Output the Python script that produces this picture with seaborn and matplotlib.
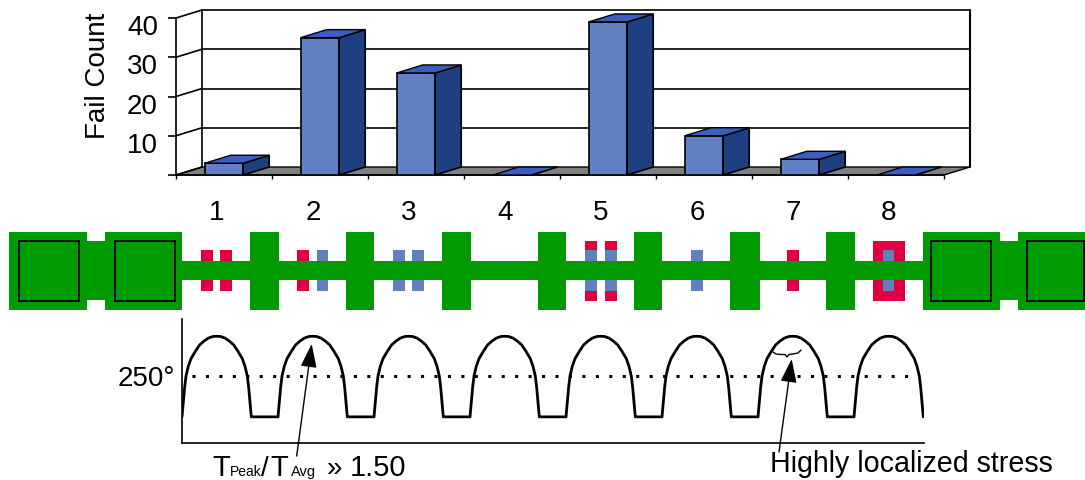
import numpy as np
import pandas as pd
import matplotlib
matplotlib.use('Agg')
import matplotlib.pyplot as plt
import seaborn as sns
from matplotlib.patches import Polygon, Rectangle
from matplotlib.transforms import ScaledTranslation

# --- Data ---
test_sites = ['1', '2', '3', '4', '5', '6', '7', '8']
fail_counts = [3, 35, 26, 0, 39, 10, 4, 0]
count_ticks = [0, 10, 20, 30, 40]
count_labels = ['', '10', '20', '30', '40']

# one arch of the temperature trace
arch_pos = [0.0, 0.014, 0.028, 0.042, 0.066, 0.094, 0.139, 0.184, 0.229, 0.274, 0.319, 0.361,
            0.403, 0.448, 0.493, 0.538, 0.583, 0.628, 0.656, 0.68, 0.694, 0.708, 0.722]
arch_temp = [97, 152, 208, 249, 285, 313, 340, 364, 378, 389, 395, 396,
             395, 389, 378, 364, 340, 313, 285, 249, 208, 152, 97]
ref_temp = 250

# --- Colours ---
GREEN = '#009B00'
RED = '#E00040'
BLUE = '#6080C0'
BAR_SIDE = '#1F3F80'
BAR_TOP = '#3C5FBF'
FLOOR = '#808080'

sns.set_theme(style='white')
plt.rcParams['font.family'] = ['Liberation Sans', 'DejaVu Sans']
plt.rcParams['text.color'] = 'black'

W, H = 1085, 481
fig = plt.figure(figsize=(W / 100, H / 100), dpi=100)

def px_axes(left, top, right, bottom):
    return fig.add_axes([left / W, 1 - bottom / H, (right - left) / W, (bottom - top) / H])

# --- Bar chart (pseudo 3D) ---
ax = px_axes(176, 19, 944, 176)
df = pd.DataFrame({'site': test_sites, 'fails': fail_counts})
sns.barplot(data=df, x='site', y='fails', order=test_sites, color=BLUE, width=0.4,
            saturation=1, edgecolor='black', linewidth=1.2, ax=ax)
ax.set_xlim(-0.5, 7.5)
ax.set_ylim(0, 40)
dx = 26 / 96
dy = 8 / (157 / 40)

ax.add_patch(Polygon([(-0.5, 0), (7.5, 0), (7.5 + dx, dy), (-0.5 + dx, dy)], facecolor=FLOOR,
                     edgecolor='black', lw=1.0, clip_on=False, zorder=0.5))
for v in count_ticks:
    ax.plot([-0.5, -0.5 + dx], [v, v + dy], color='black', lw=1.2, clip_on=False, zorder=0.6)
    if v > 0:
        ax.plot([-0.5 + dx, 7.5 + dx], [v + dy, v + dy], color='black', lw=1.2, clip_on=False, zorder=0.6)
ax.plot([-0.5 + dx] * 2, [dy, 40 + dy], color='black', lw=1.2, clip_on=False, zorder=0.6)
ax.plot([7.5 + dx] * 2, [dy, 40 + dy], color='black', lw=1.5, clip_on=False, zorder=0.6)

for bar in list(ax.patches):
    if not isinstance(bar, Rectangle):
        continue
    x0, w, h = bar.get_x(), bar.get_width(), bar.get_height()
    x1 = x0 + w
    bar.set_zorder(3)
    ax.add_patch(Polygon([(x1, 0), (x1 + dx, dy), (x1 + dx, h + dy), (x1, h)], facecolor=BAR_SIDE,
                         edgecolor='black', lw=1.2, clip_on=False, zorder=3))
    ax.add_patch(Polygon([(x0, h), (x1, h), (x1 + dx, h + dy), (x0 + dx, h + dy)], facecolor=BAR_TOP,
                         edgecolor='black', lw=1.0, clip_on=False, zorder=3))

for s in ['top', 'right']:
    ax.spines[s].set_visible(False)
for s in ['left', 'bottom']:
    ax.spines[s].set_linewidth(1.2)
    ax.spines[s].set_color('black')

ax.set_xticks(np.arange(-0.5, 8), labels=[])
ax.tick_params(axis='x', bottom=True, length=3, width=1.0, color='black')
ax.set_yticks(count_ticks, labels=count_labels, fontsize=20, color='black')
ax.tick_params(axis='y', left=True, length=6, width=1.2, color='black', labelcolor='black', pad=7)
shift = ScaledTranslation(0, -6 / 100, fig.dpi_scale_trans)
for lab in ax.get_yticklabels():
    lab.set_transform(lab.get_transform() + shift)
ax.set_xlabel('')
ax.set_ylabel('')
fig.text(98 / W, 1 - 76 / H, 'Fail Count', rotation=90, fontsize=20, ha='center', va='center')

for i, name in enumerate(test_sites):
    ax.annotate(name, xy=(i, 0), xytext=(-7, -44), xycoords='data', textcoords='offset pixels',
                ha='center', va='baseline', fontsize=20, annotation_clip=False)

# --- Temperature trace ---
ax_w = px_axes(182, 320, 924, 444)
wave_x = np.concatenate([i + np.array(arch_pos) for i in range(len(test_sites))])
wave_y = np.tile(arch_temp, len(test_sites))
sns.lineplot(x=wave_x, y=wave_y, sort=False, estimator=None, color='black', lw=2.0, ax=ax_w)
ax_w.hlines(ref_temp, 0.1, 7.66, color='black', lw=2.2, linestyles=(0, (1, 3.4)))
ax_w.set_xlim(0, 742 / 96)
ax_w.set_ylim(0, 460)
ax_w.set_xticks([])
ax_w.set_yticks([])
ax_w.patch.set_visible(False)
for s in ['top', 'right']:
    ax_w.spines[s].set_visible(False)
for s in ['left', 'bottom']:
    ax_w.spines[s].set_linewidth(1.2)
    ax_w.spines[s].set_color('black')

# --- Strip schematic and annotations, in picture pixels ---
ov = fig.add_axes([0, 0, 1, 1], zorder=5)
ov.set_xlim(0, W)
ov.set_ylim(H, 0)
ov.axis('off')

def box(x0, x1, y0, y1, color, z=1):
    ov.add_patch(Rectangle((x0, y0), x1 - x0, y1 - y0, facecolor=color, edgecolor='none', zorder=z))

# vias sit under the green line
for x0, x1 in [(201.3, 213), (219.7, 231.7), (297, 309)]:
    box(x0, x1, 251.3, 291.7, RED)
for x0, x1 in [(316.7, 328.3), (392.7, 404.7), (412.3, 424), (691.2, 702.7)]:
    box(x0, x1, 251.3, 291.7, BLUE)
for x0, x1 in [(585.2, 597), (605, 616.8)]:
    box(x0, x1, 242, 302, RED)
    box(x0, x1, 251.3, 291.7, BLUE, z=1.1)
box(787, 798.6, 251.3, 291.7, RED)
box(873.3, 904.6, 242, 301.5, RED)
box(882.7, 894, 251.3, 291.7, BLUE, z=1.1)

box(181, 923, 261.7, 281.3, GREEN, z=2)
for x0, x1 in [(250, 278.7), (345.7, 374), (442.3, 471.3), (538, 566), (634, 662), (729.5, 759.5), (826, 855)]:
    box(x0, x1, 233, 311, GREEN, z=2)
for x0, x1 in [(9, 87.3), (104.7, 181.7), (923, 1000), (1017.6, 1085)]:
    box(x0, x1, 233, 311, GREEN, z=2)
for x0, x1 in [(87, 105), (1000, 1018)]:
    box(x0, x1, 242.3, 301, GREEN, z=2)
for x0, x1 in [(19, 78.5), (115, 174.5), (931, 990.8), (1027, 1084)]:
    ov.add_patch(Rectangle((x0, 242), x1 - x0, 59.5, facecolor='none', edgecolor='black', lw=1.3, zorder=3))

ov.text(175, 386, '250°', fontsize=20, ha='right', va='baseline')

# T peak / T avg label pieces
base_y = 476
ov.text(212, base_y, 'T', fontsize=21, ha='left', va='baseline')
ov.text(230, base_y, 'Peak', fontsize=10, ha='left', va='baseline')
ov.text(261, base_y, '/', fontsize=20, ha='left', va='baseline')
ov.text(270, base_y, 'T', fontsize=21, ha='left', va='baseline')
ov.text(291, base_y, 'Avg', fontsize=10.5, ha='left', va='baseline')
ov.text(327, base_y, '»', fontsize=20, ha='left', va='baseline')
ov.text(350, base_y, '1.50', fontsize=21, ha='left', va='baseline')
ov.text(770, 472, 'Highly localized stress', fontsize=20.6, ha='left', va='baseline')

head = '-|>,head_length=1.45,head_width=0.5'
ov.annotate('', xy=(311.7, 345), xytext=(296.7, 457),
            arrowprops=dict(arrowstyle=head, color='black', lw=1.0, shrinkA=0, shrinkB=0, mutation_scale=10))
ov.annotate('', xy=(791.7, 360), xytext=(779, 453),
            arrowprops=dict(arrowstyle=head, color='black', lw=1.0, shrinkA=0, shrinkB=0, mutation_scale=10))
# brace under the peak
ov.plot([773, 776, 781, 785, 787, 789, 793, 798, 801],
        [353, 355, 355.5, 355.5, 358, 355.5, 355, 354, 351], color='black', lw=1.0)

fig.savefig('out.png', dpi=100)
